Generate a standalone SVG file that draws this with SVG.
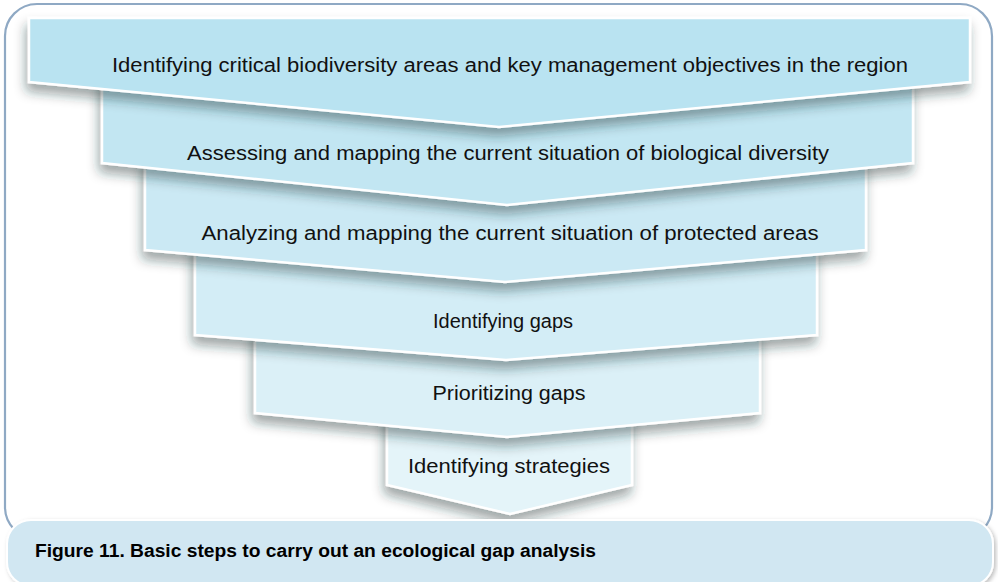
<svg xmlns="http://www.w3.org/2000/svg" width="998" height="582" viewBox="0 0 998 582">
<defs>
<filter id="sh" x="-10%" y="-20%" width="120%" height="160%">
<feDropShadow dx="-2" dy="8" stdDeviation="6" flood-color="#1a2a30" flood-opacity="0.42"/>
</filter>
<filter id="sh2" x="-5%" y="-30%" width="110%" height="160%">
<feDropShadow dx="2" dy="2" stdDeviation="2" flood-color="#000" flood-opacity="0.25"/>
</filter>
<style>
.step{stroke:#fff;stroke-width:2.5;stroke-linejoin:miter;filter:url(#sh)}
.lbl{font-family:"Liberation Sans",Arial,sans-serif;font-size:19.5px;fill:#111;text-anchor:middle}
.cap{font-family:"Liberation Sans",Arial,sans-serif;font-size:17.5px;font-weight:bold;fill:#000}
</style>
</defs>
<rect width="998" height="582" fill="#fff"/>
<rect id="frame" x="5" y="4" width="987" height="535" rx="32" ry="32" fill="none" stroke="#8fa9c4" stroke-width="2.2"/>
<g id="step6"><polygon class="step" points="387,405 632,405 632,485 510,514 387,485" fill="#e4f4f9"/><text class="lbl" x="509" y="473" textLength="202" lengthAdjust="spacingAndGlyphs">Identifying strategies</text></g>
<g id="step5"><polygon class="step" points="255,325 760,325 760,413 507,437 255,413" fill="#dbf0f7"/><text class="lbl" x="509" y="400" textLength="153" lengthAdjust="spacingAndGlyphs">Prioritizing gaps</text></g>
<g id="step4"><polygon class="step" points="195,240 817,240 817,335 506,360 195,335" fill="#d3edf6"/><text class="lbl" x="503" y="328" textLength="140" lengthAdjust="spacingAndGlyphs">Identifying gaps</text></g>
<g id="step3"><polygon class="step" points="145,155 866,155 866,250 505,282 145,250" fill="#cbe9f4"/><text class="lbl" x="510" y="240" textLength="617" lengthAdjust="spacingAndGlyphs">Analyzing and mapping the current situation of protected areas</text></g>
<g id="step2"><polygon class="step" points="102,75 913,75 913,163 507,205 102,163" fill="#c2e6f2"/><text class="lbl" x="508" y="160" textLength="642" lengthAdjust="spacingAndGlyphs">Assessing and mapping the current situation of biological diversity</text></g>
<g id="step1"><polygon class="step" points="29,18 970,18 970,82 499,127 29,82" fill="#b9e3f1"/><text class="lbl" x="510" y="72" textLength="796" lengthAdjust="spacingAndGlyphs">Identifying critical biodiversity areas and key management objectives in the region</text></g>
<g id="caption"><rect x="7" y="520" width="986" height="66" rx="24" ry="24" fill="#d1e7f2" stroke="#fff" stroke-width="2" filter="url(#sh2)"/><text class="cap" x="35" y="557" textLength="561" lengthAdjust="spacingAndGlyphs">Figure 11. Basic steps to carry out an ecological gap analysis</text></g>
</svg>
